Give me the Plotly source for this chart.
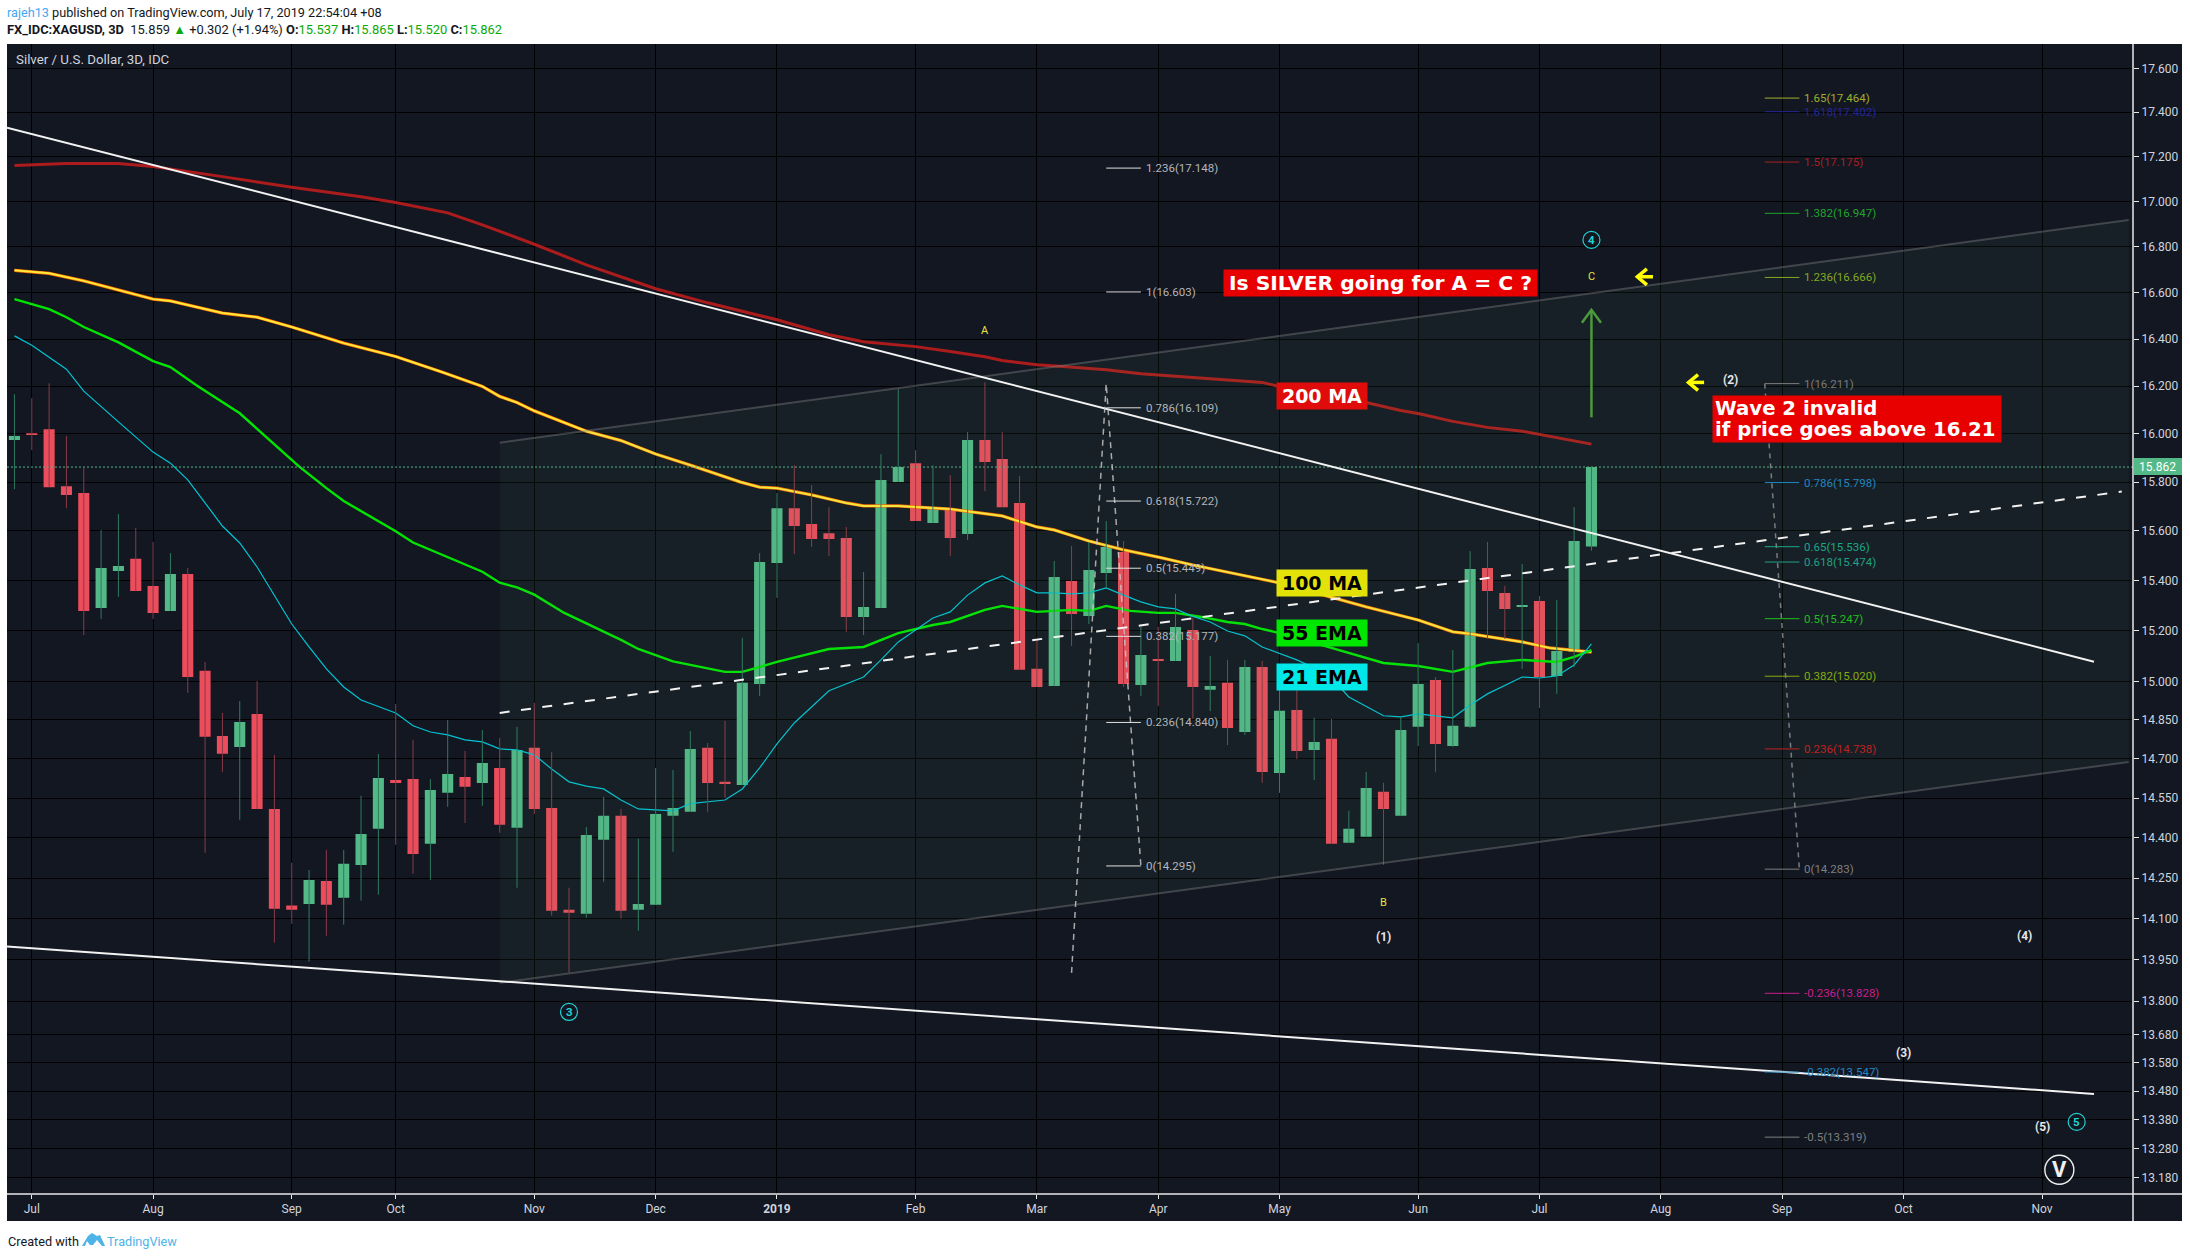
import math
import plotly.graph_objects as go

# ---------- candles (bar index is the position in these lists) ----------
opens = [15.974,16.002,16.019,15.783,15.755,15.290,15.438,15.487,15.378,15.278,15.426,15.041,14.788,14.745,14.873,14.509,14.148,14.154,14.239,14.177,14.299,14.434,14.619,14.623,14.378,14.570,14.630,14.608,14.665,14.438,14.742,14.513,14.133,14.118,14.393,14.483,14.133,14.151,14.483,14.498,14.742,14.612,14.600,14.990,15.470,15.693,15.628,15.591,15.571,15.254,15.290,15.800,15.878,15.632,15.689,15.588,15.974,15.895,15.714,15.049,14.982,15.398,15.258,15.430,15.514,14.986,15.088,15.080,15.202,14.967,14.994,14.803,15.056,14.646,14.888,14.734,14.777,14.382,14.404,14.574,14.483,14.823,15.005,14.749,14.823,15.450,15.350,15.294,15.318,15.021,15.115,15.537]
highs = [16.166,16.149,16.212,15.991,15.862,15.604,15.669,15.612,15.555,15.510,15.450,15.076,14.877,14.923,15.001,14.715,14.307,14.280,14.355,14.355,14.559,14.719,14.912,14.773,14.623,14.850,14.730,14.811,14.780,14.823,14.916,14.726,14.214,14.441,14.555,14.509,14.397,14.665,14.657,14.807,14.761,14.846,15.171,15.510,15.755,15.870,15.788,15.697,15.616,15.434,15.915,16.188,15.932,15.870,15.829,16.007,16.216,16.007,15.825,15.167,15.478,15.539,15.555,15.640,15.559,15.214,15.214,15.346,15.250,15.100,15.084,15.084,15.080,14.967,14.967,14.858,14.854,14.502,14.650,14.608,14.862,15.151,15.017,15.123,15.518,15.555,15.378,15.466,15.338,15.322,15.697,15.865]
lows = [15.771,15.932,15.779,15.693,15.182,15.246,15.334,15.358,15.246,15.278,14.955,14.344,14.650,14.468,14.509,14.012,14.081,13.943,14.037,14.078,14.166,14.188,14.374,14.266,14.243,14.517,14.456,14.521,14.419,14.214,14.490,14.111,13.903,14.103,14.236,14.100,14.056,14.151,14.348,14.498,14.498,14.551,14.600,14.943,15.330,15.506,15.535,15.498,15.195,15.182,15.290,15.800,15.640,15.632,15.498,15.563,15.763,15.697,15.045,14.978,14.982,15.139,15.226,15.370,14.978,14.943,14.904,15.080,14.854,14.884,14.753,14.792,14.608,14.570,14.699,14.619,14.378,14.382,14.404,14.299,14.483,14.749,14.650,14.745,14.819,15.167,15.167,15.049,14.896,14.951,15.056,15.520]
closes = [15.991,15.995,15.779,15.747,15.278,15.450,15.458,15.358,15.270,15.426,15.017,14.785,14.719,14.842,14.509,14.136,14.133,14.243,14.151,14.303,14.415,14.627,14.608,14.340,14.581,14.642,14.593,14.684,14.449,14.734,14.509,14.129,14.122,14.411,14.483,14.129,14.154,14.490,14.513,14.738,14.608,14.604,14.994,15.474,15.693,15.620,15.567,15.567,15.254,15.294,15.809,15.862,15.640,15.689,15.571,15.974,15.883,15.697,15.045,14.978,15.414,15.266,15.442,15.535,14.990,15.103,15.080,15.214,14.978,14.982,14.819,15.056,14.650,14.885,14.730,14.765,14.378,14.434,14.589,14.509,14.811,14.990,14.757,14.827,15.446,15.358,15.286,15.302,15.017,15.119,15.559,15.862]

# ---------- moving averages ----------
ma200_idx = [0,3,6,8,12,16,20,22,25,27,30,33,37,40,44,47,49,52,54,56,57,59,60.5,62,63,65,68,72,73,78,80,81,83,85,87,91]
ma200_val = [17.160,17.169,17.169,17.155,17.110,17.063,17.020,16.995,16.949,16.896,16.811,16.721,16.617,16.556,16.483,16.419,16.389,16.368,16.347,16.325,16.309,16.291,16.283,16.275,16.270,16.253,16.237,16.216,16.199,16.131,16.098,16.085,16.052,16.027,16.011,15.957]
ma100_idx = [0,2,4,7,8,9,12,14,16,19,22,24.7,27,28,29,30,33,35,37,39,41.9,43,44,46,48,49,51,54,57,59,60,62,64,66,68,73,78,81,83,84,87,88.6,91]
ma100_val = [16.697,16.684,16.651,16.590,16.572,16.564,16.512,16.494,16.452,16.383,16.326,16.259,16.199,16.157,16.131,16.096,16.011,15.972,15.916,15.870,15.800,15.779,15.775,15.747,15.714,15.702,15.702,15.689,15.661,15.616,15.604,15.559,15.523,15.494,15.462,15.390,15.294,15.242,15.195,15.187,15.155,15.131,15.115]
ema55_idx = [0,2,3,4,6,8,9,10.5,13,14,16.4,18,19,22,23,27,28,29,30,31.7,33.8,35,36,38,41,42,44,47,49,51,53,54,56,57,59,61,62,63,64.4,66,67,68.5,70,71,72,73,75,77,79,81,83,85,87,89,90,91]
ema55_val = [16.572,16.529,16.494,16.452,16.386,16.306,16.281,16.204,16.086,16.022,15.866,15.775,15.722,15.599,15.553,15.435,15.391,15.372,15.343,15.271,15.202,15.163,15.127,15.078,15.037,15.037,15.076,15.127,15.135,15.190,15.222,15.234,15.282,15.298,15.274,15.282,15.278,15.298,15.278,15.270,15.270,15.254,15.234,15.226,15.206,15.190,15.151,15.111,15.072,15.060,15.037,15.072,15.084,15.076,15.096,15.123]
ema21_idx = [0,1,3,4,6,8,9,10,12,13,14,16,17,18,19,20,22,23,24,25,26,27,28,29,30,31,32,33,34,35,36,37,38,39,40,41,42,43,44,45,47,49,50,51,52,53,54,55,56,57,58,59,60,61,62,63,64,65,66,67,68,69,70,71,72,73,74,75,76,77,79,80,81,83,84,85,87,88,89,90,91]
ema21_val = [16.414,16.374,16.272,16.179,16.050,15.924,15.878,15.809,15.620,15.551,15.454,15.226,15.135,15.049,14.978,14.927,14.877,14.827,14.803,14.792,14.773,14.765,14.738,14.734,14.715,14.661,14.612,14.596,14.585,14.543,14.509,14.506,14.502,14.529,14.536,14.543,14.585,14.665,14.757,14.838,14.963,15.017,15.084,15.155,15.202,15.250,15.274,15.341,15.390,15.418,15.382,15.350,15.350,15.346,15.350,15.370,15.341,15.314,15.294,15.286,15.256,15.234,15.198,15.179,15.135,15.111,15.084,15.053,15.013,14.939,14.866,14.862,14.873,14.858,14.908,14.951,15.017,15.013,15.021,15.064,15.147]

# ---------- drawn lines: (bar index, price) end points ----------
down_line_idx, down_line_val = [-0.43, 120], [17.330, 15.077]
low_line_idx, low_line_val = [-0.43, 120], [13.998, 13.470]
dash_line_idx, dash_line_val = [28, 121.6], [14.877, 15.761]
chan_idx = [28, 122]
chan_top = [15.963, 16.918]
chan_bot = [13.866, 14.688]

fib_a_idx, fib_a_val = [61, 63, 65], [13.902, 16.211, 14.295]
fib_b_idx, fib_b_val = [101, 103], [16.211, 14.283]

fib_a_span = [63, 65]
fib_a_levels = ["1.236","1","0.786","0.618","0.5","0.382","0.236","0"]
fib_a_prices = [17.148,16.603,16.109,15.722,15.449,15.177,14.840,14.295]

fib_b_span = [101, 103]
fib_b_levels = ["1.65","1.618","1.5","1.382","1.236","1","0.786","0.65","0.618","0.5","0.382","0.236","0","-0.236","-0.382","-0.5"]
fib_b_prices = [17.464,17.402,17.175,16.947,16.666,16.211,15.798,15.536,15.474,15.247,15.020,14.738,14.283,13.828,13.547,13.319]
fib_b_colors = ["#9fb02c","#25259a","#a81f1f","#1fa52a","#86a822","#7a7a7a","#2186c0","#1aa888","#22a083","#1fbf1f","#86aa0f","#c02020","#7f7f7f","#c81e8c","#2186c0","#7f7f7f"]

# ---------- axes ----------
month_idx = [1,8,16,22,30,37,44,52,59,66,73,81,88,95,102,109,117]
month_lbl = ["Jul","Aug","Sep","Oct","Nov","Dec","<b>2019</b>","Feb","Mar","Apr","May","Jun","Jul","Aug","Sep","Oct","Nov"]
price_ticks = [17.6,17.4,17.2,17.0,16.8,16.6,16.4,16.2,16.0,15.8,15.6,15.4,15.2,15.0,14.85,14.7,14.55,14.4,14.25,14.1,13.95,13.8,13.68,13.58,13.48,13.38,13.28,13.18]
last_price = 15.862

# ---------- wave labels ----------
yellow_lbl = ["A","B","C"]
yellow_idx = [56,79,91]
yellow_val = [16.436,14.158,16.671]
white_lbl = ["(1)","(2)","(3)","(4)","(5)"]
white_idx = [79,99,109,116,117]
white_val = [14.033,16.228,13.615,14.035,13.355]
cyan_lbl = ["3","4","5"]
cyan_idx = [32,91,119]
cyan_val = [13.761,16.830,13.372]
big_lbl, big_idx, big_val = ["V"], [118], [13.206]

# arrows: polyline through bar index / price
up_arrow_idx = [91,91,None,90.45,91,91.55]
up_arrow_val = [16.069,16.526,None,16.470,16.526,16.470]
left1_idx = [94.55,93.65,None,94.2,93.65,94.2]
left1_val = [16.669,16.669,None,16.703,16.669,16.634]
left2_idx = [97.5,96.6,None,97.15,96.6,97.15]
left2_val = [16.216,16.216,None,16.249,16.216,16.182]

# boxes
box_text = ["Is SILVER going for A = C ?","200 MA","100 MA","55 EMA","21 EMA"]
box_idx = [78.85,75.45,75.45,75.45,75.45]
box_val = [16.643,16.157,15.390,15.190,15.017]
box_w = [313,90,90,90,90]
box_sz = [20.3,19,19,19,19]
box_bg = ["#e80000","#e00b0b","#e2e208","#00e600","#00e8e8"]
box_fg = ["#ffffff","#ffffff","#000000","#000000","#000000"]
note_lines = ["Wave 2 invalid","if price goes above 16.21"]
note_idx = 98.0
note_val = [16.106,16.019]

BG = "#131722"
UP, DOWN = "#53b987", "#eb4d5c"
AX = "#d1d4dc"
FONT = "Roboto"

L, R, T, B = 7, 2133, 44, 1194
W, H = 2190, 1258
fx = lambda p: (p - L) / (R - L)
fy = lambda p: (B - p) / (B - T)

fig = go.Figure()

def line(x, y, color, width, dash=None):
    fig.add_trace(go.Scatter(x=x, y=y, mode="lines", hoverinfo="skip", showlegend=False,
                             line=dict(color=color, width=width, dash=dash, shape="linear")))

line(ma200_idx, ma200_val, "#ad1c1c", 3)
line(ma100_idx, ma100_val, "#ff6a00", 3.3)
line(ma100_idx, ma100_val, "#ffe93b", 2)
line(ema55_idx, ema55_val, "#00e600", 2.4)
line(ema21_idx, ema21_val, "#00c4d4", 1.2)

# price line
line([-0.43, 122.25], [last_price, last_price], UP, 1, "2px,2px")

# wicks
idx = list(range(len(opens)))
for up, col in ((True, "#2f7a60"), (False, "#8a3a48")):
    wx, wy = [], []
    for i in idx:
        if (closes[i] >= opens[i]) == up:
            wx += [i, i, None]
            wy += [lows[i], highs[i], None]
    line(wx, wy, col, 1)

# bodies
fig.add_trace(go.Candlestick(
    x=idx, open=opens, close=closes,
    high=[max(a, b) for a, b in zip(opens, closes)],
    low=[min(a, b) for a, b in zip(opens, closes)],
    increasing=dict(fillcolor=UP, line=dict(color=UP, width=0)),
    decreasing=dict(fillcolor=DOWN, line=dict(color=DOWN, width=0)),
    hoverinfo="skip", showlegend=False))

# channel fill + edges
fig.add_trace(go.Scatter(x=chan_idx + chan_idx[::-1], y=chan_top + chan_bot[::-1],
                         mode="lines", fill="toself", fillcolor="rgba(90,170,110,0.065)",
                         line=dict(width=0), hoverinfo="skip", showlegend=False))
line(chan_idx, chan_top, "rgba(135,135,135,0.4)", 2)
line(chan_idx, chan_bot, "rgba(135,135,135,0.4)", 2)

# white trend lines
line(down_line_idx, down_line_val, "#f2f2f2", 2)
line(low_line_idx, low_line_val, "#f2f2f2", 2)
line(dash_line_idx, dash_line_val, "#f2f2f2", 2, "10px,11.5px")

# fib connecting lines
line(fib_a_idx, fib_a_val, "rgba(205,205,205,0.8)", 1.5, "6px,5px")
line(fib_b_idx, fib_b_val, "rgba(140,140,140,0.85)", 1.5, "5px,5px")

ann = []
def text(x, y, s, color, size, bold=False, xanchor="center", family=FONT, **kw):
    ann.append(dict(x=x, y=math.log10(y), xref="x", yref="y", text=f"<b>{s}</b>" if bold else s,
                    showarrow=False, xanchor=xanchor, yanchor="middle",
                    font=dict(color=color, size=size, family=family), **kw))

# fib levels
for lv, p in zip(fib_a_levels, fib_a_prices):
    line(fib_a_span, [p, p], "#e0e0e0", 1)
    text(fib_a_span[1] + 0.2, p, f"{lv}({p:.3f})", "#b4b6bb", 11.5, xanchor="left")
for lv, p, c in zip(fib_b_levels, fib_b_prices, fib_b_colors):
    line(fib_b_span, [p, p], c, 1)
    text(fib_b_span[1] + 0.15, p, f"{lv}({p:.3f})", c, 11.5, xanchor="left")

# arrows
line(up_arrow_idx, up_arrow_val, "#4c9a3c", 2.5)
line(left1_idx, left1_val, "#ffff00", 3.5)
line(left2_idx, left2_val, "#ffff00", 3.5)

# wave labels
for s, x, y in zip(yellow_lbl, yellow_idx, yellow_val):
    text(x, y, s, "#e8e23c", 11)
for s, x, y in zip(white_lbl, white_idx, white_val):
    text(x, y, s, "#e6e6e6", 12, bold=True)
fig.add_trace(go.Scatter(x=cyan_idx, y=cyan_val, mode="markers", hoverinfo="skip", showlegend=False,
                         marker=dict(symbol="circle-open", size=17, color="#22d3d3", line=dict(width=1.2, color="#22d3d3"))))
for s, x, y in zip(cyan_lbl, cyan_idx, cyan_val):
    text(x, y, s, "#22d3d3", 11.5, bold=True)
fig.add_trace(go.Scatter(x=big_idx, y=big_val, mode="markers", hoverinfo="skip", showlegend=False,
                         marker=dict(symbol="circle-open", size=29, color="#f0f0f0", line=dict(width=1.4, color="#f0f0f0"))))
for s, x, y in zip(big_lbl, big_idx, big_val):
    text(x, y, s, "#f0f0f0", 22, bold=True)

# coloured boxes
BOLD = "DejaVu Sans"
for s, x, y, w, bg, fg, sz in zip(box_text, box_idx, box_val, box_w, box_bg, box_fg, box_sz):
    ann.append(dict(x=x, y=math.log10(y), xref="x", yref="y", text=f"<b>{s}</b>", showarrow=False,
                    width=w, height=26, bgcolor=bg, borderpad=0, align="center",
                    font=dict(color=fg, size=sz, family=BOLD)))
ann.append(dict(x=106.3, y=math.log10(16.060), xref="x", yref="y", showarrow=False, text=" ",
                width=288, height=46, bgcolor="#e80000", borderpad=0))
for s, y in zip(note_lines, note_val):
    text(note_idx, y, s, "#ffffff", 19.7, bold=True, xanchor="left", family=BOLD)

# paper text
def ptext(px, py, s, color="#131722", size=12.5, anchor="left", **kw):
    ann.append(dict(x=fx(px), y=fy(py), xref="paper", yref="paper", text=s, showarrow=False,
                    xanchor=anchor, yanchor="middle", font=dict(color=color, size=size, family=FONT), **kw))

G = "#09a909"
ptext(5, 13, '<span style="color:#3fa9f5">rajeh13</span> published on TradingView.com, July 17, 2019 22:54:04 +08', size=12.7)
ptext(5, 30, f'<b>FX_IDC:XAGUSD, 3D</b>  15.859 <span style="color:{G}">▲</span> +0.302 (+1.94%) '
             f'<b>O:</b><span style="color:{G}">15.537</span> <b>H:</b><span style="color:{G}">15.865</span> '
             f'<b>L:</b><span style="color:{G}">15.520</span> <b>C:</b><span style="color:{G}">15.862</span>', size=12.9)
ptext(14, 60, "Silver / U.S. Dollar, 3D, IDC", AX, 13.3)
ptext(6, 1241, "Created with", "#131722", 12.7)
ptext(105, 1241, "TradingView", "#4db3e8", 12.7)
ptext(2157.5, 466.5, "15.862", "#ffffff", 12, anchor="center")

# shapes
def rect(x0, y0, x1, y1, color, layer="below"):
    return dict(type="rect", xref="paper", yref="paper", x0=fx(x0), x1=fx(x1), y0=fy(y0), y1=fy(y1),
                fillcolor=color, line=dict(width=0), layer=layer)
def seg(x0, y0, x1, y1):
    return dict(type="line", xref="paper", yref="paper", x0=fx(x0), x1=fx(x1), y0=fy(y0), y1=fy(y1),
                line=dict(color="#e8e8e8", width=1.5), layer="above")
logo_pts = [(82,1246),(88,1236),(92,1233),(97,1236),(100,1235),(105,1246),(102,1246),(97,1240),(93,1245),(90,1245),(87,1241),(85,1246)]
logo = "M " + " L ".join(f"{fx(a):.5f},{fy(b):.5f}" for a, b in logo_pts) + " Z"
shapes = [
    rect(7, 1194, 2182, 1221, BG),
    rect(2133, 44, 2182, 1221, BG),
    seg(7, 1194, 2182, 1194),
    seg(2133, 44, 2133, 1221),
    rect(2134, 458, 2182, 475, UP, layer="below"),
    dict(type="path", xref="paper", yref="paper", path=logo, fillcolor="#4db3e8", line=dict(width=0)),
]

fig.update_layout(
    width=W, height=H, autosize=False,
    margin=dict(l=L, r=W - R, t=T, b=H - B, pad=0),
    paper_bgcolor="#ffffff", plot_bgcolor=BG,
    showlegend=False, hovermode=False, boxgap=0.36, boxgroupgap=0,
    annotations=ann, shapes=shapes,
    font=dict(family=FONT, color=AX, size=11),
    xaxis=dict(type="linear", range=[-0.43, 122.25], tickmode="array", tickvals=month_idx, ticktext=month_lbl,
               showgrid=True, gridcolor="#000000", gridwidth=1, zeroline=False, rangeslider=dict(visible=False),
               ticks="outside", ticklen=4, tickcolor="#e8e8e8", tickwidth=1,
               tickfont=dict(color=AX, size=12, family=FONT), showline=False),
    yaxis=dict(type="log", side="right", range=[math.log10(13.123), math.log10(17.712)],
               tickmode="array", tickvals=price_ticks, ticktext=[f"{t:.3f}" for t in price_ticks],
               showgrid=True, gridcolor="#000000", gridwidth=1, zeroline=False,
               ticks="outside", ticklen=5, tickcolor="#e8e8e8", tickwidth=1,
               tickfont=dict(color=AX, size=12, family=FONT), showline=False),
)

fig.write_html("out.html", config={"displayModeBar": False},
               post_script="document.body.style.margin='0';document.body.style.background='#fff';")
